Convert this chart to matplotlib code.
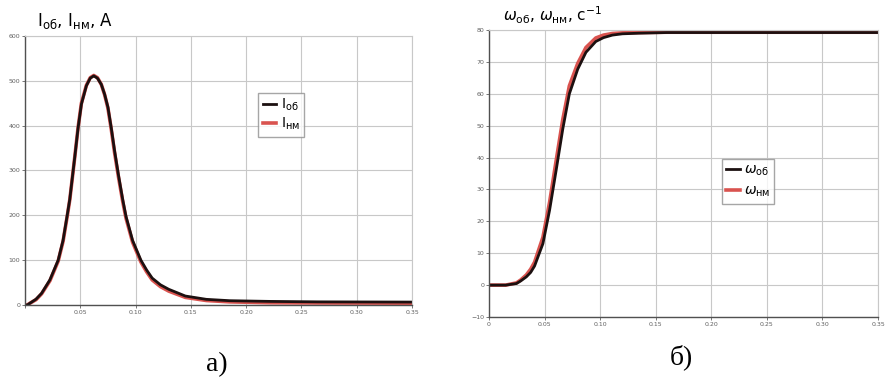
import matplotlib
matplotlib.use("Agg")
import matplotlib.pyplot as plt

# current, A
t_i = [0, 0.002, 0.0045, 0.010, 0.015, 0.0225, 0.030, 0.0344, 0.0383, 0.0405, 0.045,
       0.048, 0.051, 0.0555, 0.059, 0.0622, 0.0655, 0.069, 0.072, 0.075, 0.078, 0.081,
       0.0845, 0.0883, 0.0913, 0.0973, 0.1048, 0.110, 0.115, 0.1225, 0.130, 0.145,
       0.164, 0.185, 0.222, 0.265, 0.35]
i_ob = [0, 0, 4, 13, 26, 56, 100, 144, 202, 236, 330, 395, 448, 489, 506, 511, 506,
        492, 470, 441, 395, 344, 290, 236, 198, 144, 100, 78, 60, 45, 35, 20, 12.6,
        9.6, 8, 7, 6.5]
i_nm = [0, 0, 4, 12, 25, 54, 98, 142, 200, 235, 330, 396, 450, 490, 507, 512, 507,
        492, 469, 439, 392, 340, 286, 232, 194, 140, 96, 74, 56, 41, 31, 17, 10,
        7, 5, 4.5, 4]

# angular speed, 1/s
t_w = [0, 0.015, 0.0247, 0.0285, 0.0336, 0.0375, 0.041, 0.0485, 0.0545, 0.0604,
       0.0664, 0.0723, 0.0798, 0.0872, 0.0961, 0.103, 0.111, 0.12, 0.135, 0.16, 0.2,
       0.25, 0.3, 0.35]
w_ob = [0, 0, 0.5, 1.3, 2.6, 4, 6, 13, 23.5, 36, 49, 60, 67.7, 73, 76.4, 77.6, 78.4,
        78.8, 79.0, 79.2, 79.2, 79.2, 79.2, 79.2]
w_nm = [0, 0, 0.7, 1.6, 3.2, 5, 7.2, 15, 26, 39, 52, 62.5, 69.5, 74.5, 77.5, 78.4,
        78.9, 79.1, 79.2, 79.3, 79.3, 79.3, 79.3, 79.3]

x_ticks = [0, 0.05, 0.10, 0.15, 0.20, 0.25, 0.30, 0.35]
x_labels = ["0", "0.05", "0.10", "0.15", "0.20", "0.25", "0.30", "0.35"]

fig = plt.figure(figsize=(8.87, 3.85), dpi=100)

grid_c = "#c8c8c8"
tick_c = "#606060"
red = "#d9534f"
black = "#1c1010"


def style(ax):
    ax.grid(True, color=grid_c, lw=0.8)
    ax.set_axisbelow(True)
    for s in ["top", "right"]:
        ax.spines[s].set_color(grid_c)
    for s in ["left", "bottom"]:
        ax.spines[s].set_color("#505050")
        ax.spines[s].set_linewidth(1.0)
    ax.tick_params(labelsize=4.5, colors=tick_c, length=2, width=0.6, pad=1.5)
    ax.set_xticks(x_ticks)
    ax.set_xlim(0, 0.35)


# а) current
ax1 = fig.add_axes([0.0282, 0.2078, 0.4363, 0.6987])
style(ax1)
ax1.plot(t_i, i_nm, color=red, lw=2.6, label=r"I$_{\mathrm{нм}}$")
ax1.plot(t_i, i_ob, color=black, lw=2.0, label=r"I$_{\mathrm{об}}$")
ax1.set_ylim(0, 600)
ax1.set_yticks(range(0, 601, 100))
ax1.set_xticklabels([""] + x_labels[1:])
h, l = ax1.get_legend_handles_labels()
ax1.legend(h[::-1], l[::-1], loc="upper left", bbox_to_anchor=(0.585, 0.815),
           fontsize=10, frameon=True, fancybox=False, edgecolor="#909090",
           handlelength=1.0, handletextpad=0.3, borderpad=0.3, labelspacing=0.2)
fig.text(0.042, 0.945, r"I$_{\mathrm{об}}$, I$_{\mathrm{нм}}$, A", fontsize=12,
         ha="left", va="center")

# б) angular speed
ax2 = fig.add_axes([0.5513, 0.1766, 0.4386, 0.7455])
style(ax2)
ax2.plot(t_w, w_nm, color=red, lw=2.6, label=r"$\omega_{\mathrm{нм}}$")
ax2.plot(t_w, w_ob, color=black, lw=2.0, label=r"$\omega_{\mathrm{об}}$")
ax2.set_ylim(-10, 80)
ax2.set_yticks(range(-10, 81, 10))
ax2.set_xticklabels(x_labels)
h, l = ax2.get_legend_handles_labels()
ax2.legend(h[::-1], l[::-1], loc="upper left", bbox_to_anchor=(0.58, 0.575),
           fontsize=10, frameon=True, fancybox=False, edgecolor="#909090",
           handlelength=1.0, handletextpad=0.3, borderpad=0.3, labelspacing=0.4)
fig.text(0.567, 0.96, r"$\omega_{\mathrm{об}}$, $\omega_{\mathrm{нм}}$, с$^{-1}$",
         fontsize=11, ha="left", va="center")

fig.text(0.244, 0.052, "а)", fontsize=20, family="Liberation Serif",
         ha="center", va="center")
fig.text(0.768, 0.072, "б)", fontsize=20, family="Liberation Serif",
         ha="center", va="center")

fig.savefig("out.png", dpi=100)
